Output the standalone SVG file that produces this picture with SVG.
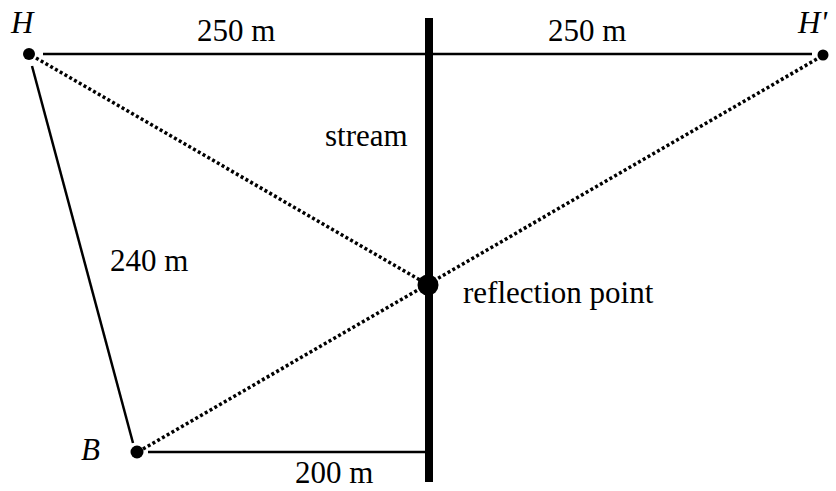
<svg xmlns="http://www.w3.org/2000/svg" width="836" height="491" viewBox="0 0 836 491">
<style>
text{font-family:'Liberation Serif','DejaVu Serif',serif;font-size:31px;fill:#000}
.i{font-style:italic}
.s{stroke:#000;stroke-width:2.5;fill:none}
.d{stroke:#000;stroke-width:3.5;stroke-dasharray:3 2.5;fill:none}
.dot{fill:#000}
</style>
<rect width="836" height="491" fill="#fff"/>
<g id="connectors">
<line class="s" x1="43" y1="54" x2="812" y2="54"/>
<line class="s" x1="32" y1="66" x2="133" y2="443"/>
<line class="s" x1="148" y1="452" x2="426" y2="452"/>
<line class="d" x1="36" y1="58" x2="420" y2="280"/>
<line class="d" x1="143" y1="449" x2="817" y2="59"/>
</g>
<g id="stream">
<rect x="425" y="18" width="8" height="464" fill="#000"/>
<text x="325" y="146" font-family="Liberation Serif, serif">stream</text>
</g>
<g id="H">
<circle class="dot" cx="29" cy="54" r="6"/>
<text class="i" x="11" y="33" font-family="Liberation Serif, serif">H</text>
</g>
<g id="Hprime">
<circle class="dot" cx="823" cy="55" r="5.5"/>
<text class="i" x="798" y="33" font-family="Liberation Serif, serif">H'</text>
</g>
<g id="B">
<circle class="dot" cx="137" cy="452" r="6.5"/>
<text class="i" x="81" y="460" font-family="Liberation Serif, serif">B</text>
</g>
<g id="reflection">
<circle class="dot" cx="428" cy="285" r="10.5"/>
<text x="463" y="303" font-family="Liberation Serif, serif">reflection point</text>
</g>
<g id="labels" font-family="Liberation Serif, serif">
<text x="197" y="41">250 m</text>
<text x="548" y="41">250 m</text>
<text x="110" y="271">240 m</text>
<text x="295" y="483">200 m</text>
</g>
</svg>
